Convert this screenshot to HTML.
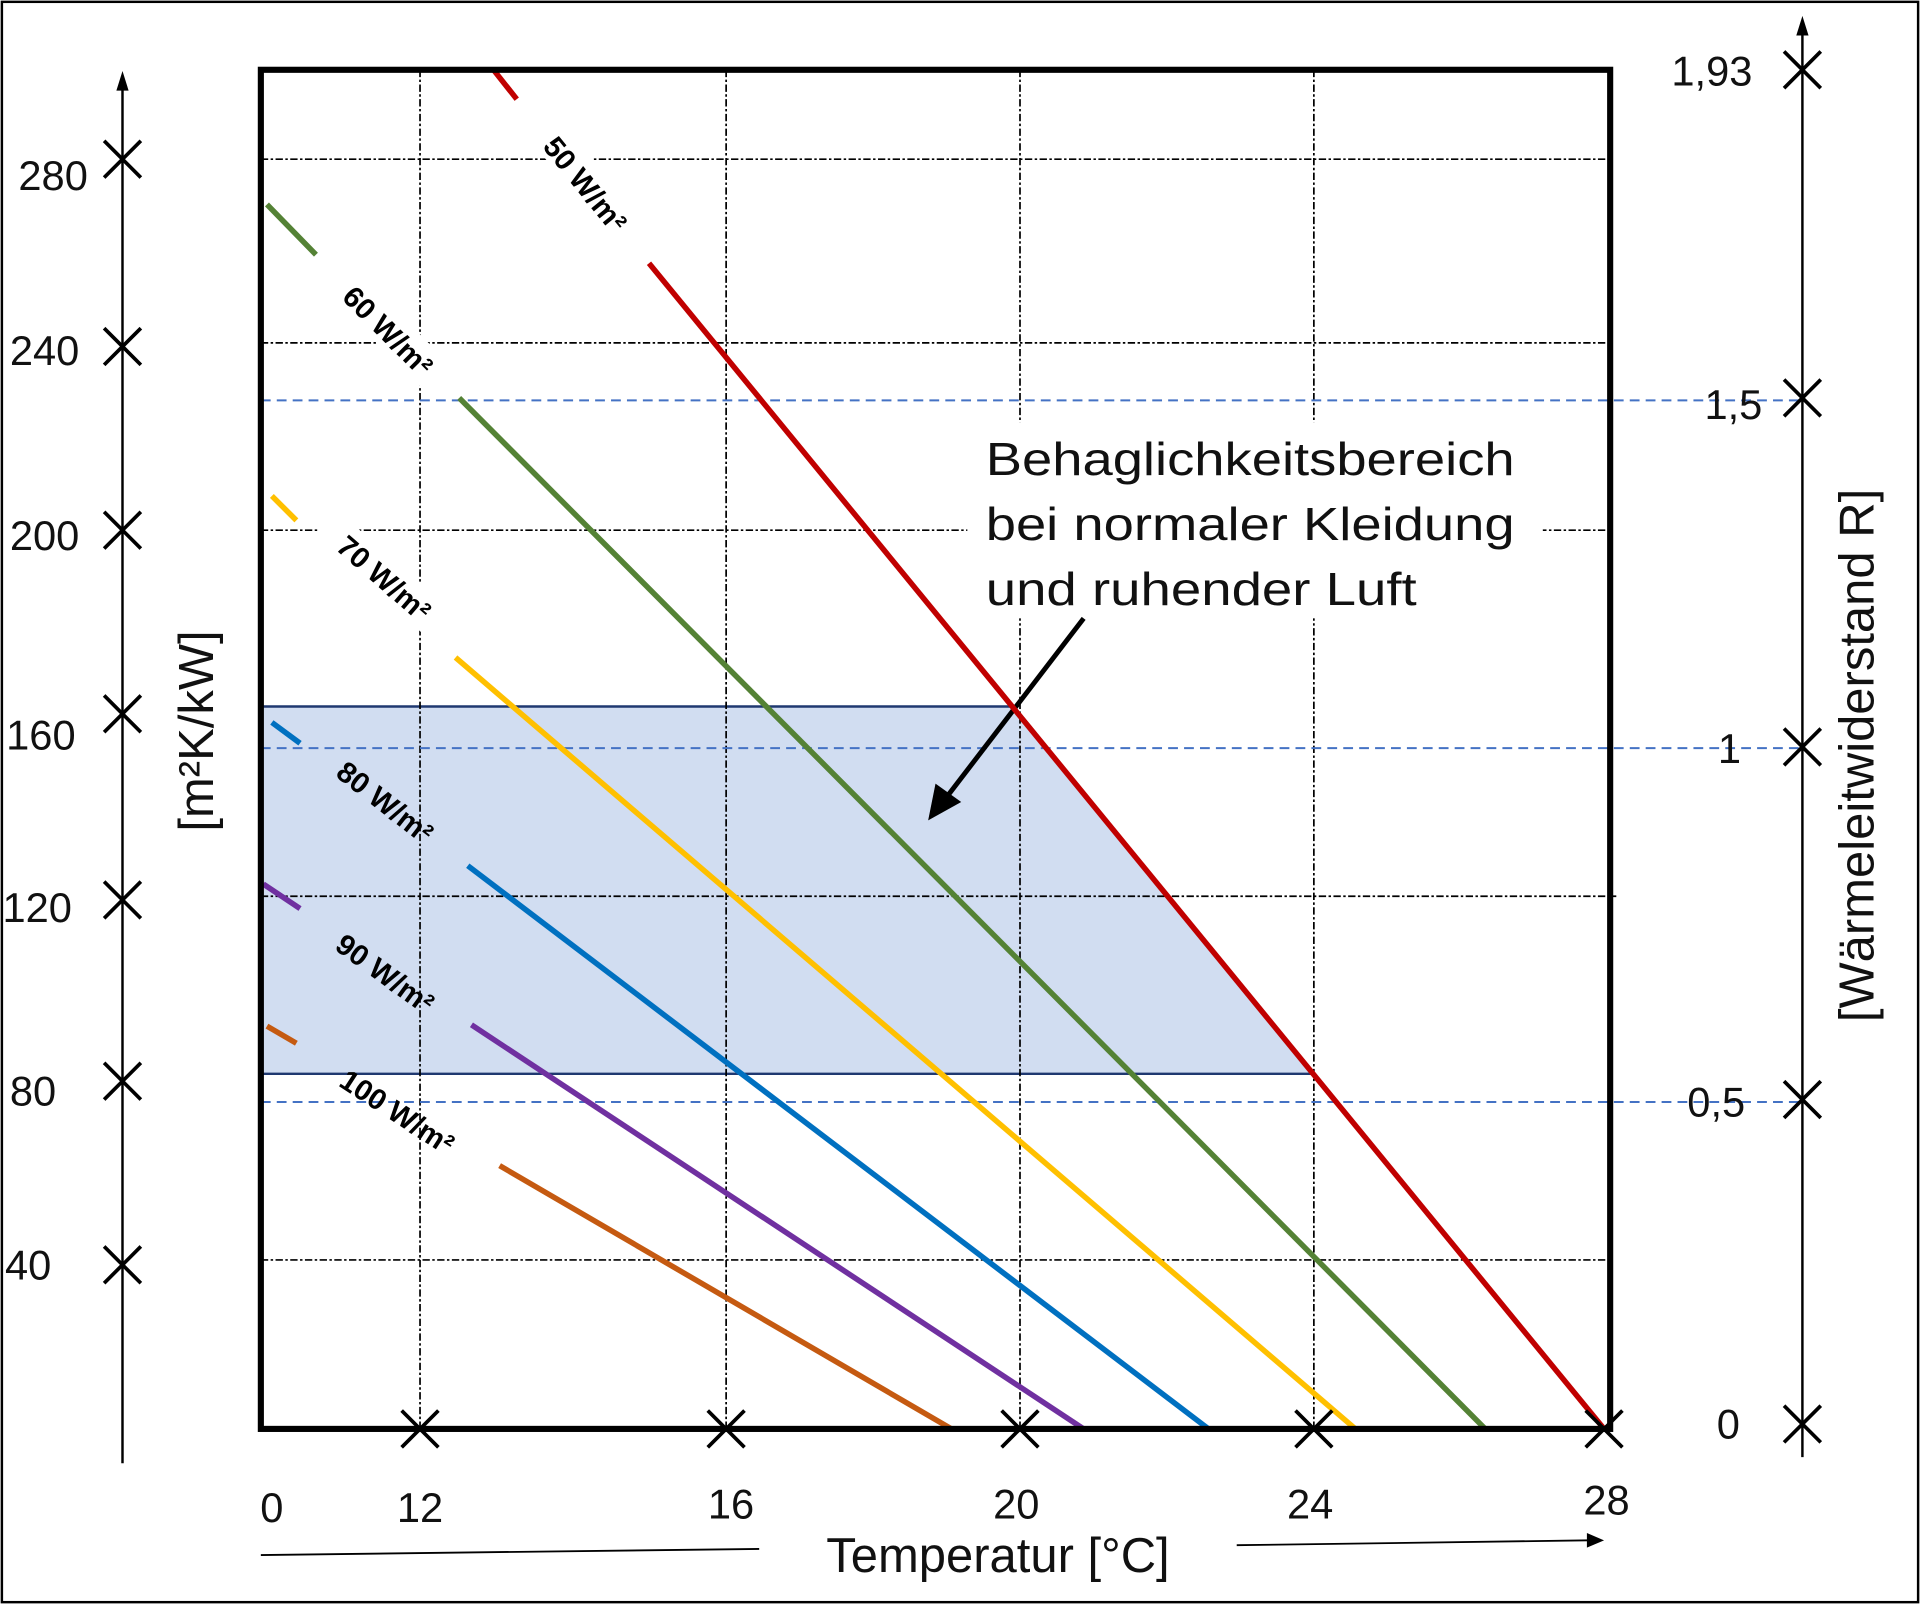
<!DOCTYPE html>
<html><head><meta charset="utf-8"><style>html,body{margin:0;padding:0;background:#fff}svg{display:block}</style></head>
<body>
<svg width="1920" height="1604" viewBox="0 0 1568 1310" xmlns="http://www.w3.org/2000/svg" font-family="Liberation Sans, Arial, sans-serif">
<rect x="1.5" y="1.5" width="1565" height="1307" fill="#fff" stroke="#000" stroke-width="2"/>
<polygon points="213,577 828,577 1073,877 213,877" fill="#d1ddf1" stroke="#1f3870" stroke-width="2"/>
<g stroke="#000" stroke-width="1.4" stroke-dasharray="6,2,2,2">
<line x1="343" y1="57" x2="343" y2="1167"/><line x1="593" y1="57" x2="593" y2="1167"/>
<line x1="833" y1="57" x2="833" y2="1167"/><line x1="1073" y1="57" x2="1073" y2="1167"/>
<line x1="213" y1="130" x2="1315" y2="130"/><line x1="213" y1="280" x2="1315" y2="280"/>
<line x1="213" y1="433" x2="1315" y2="433"/><line x1="213" y1="732" x2="1320" y2="732"/>
<line x1="213" y1="1029" x2="1315" y2="1029"/>
</g>
<g stroke="#4472c4" stroke-width="1.6" stroke-dasharray="8,5">
<line x1="213" y1="327" x2="1472" y2="327"/><line x1="213" y1="611" x2="1472" y2="611"/><line x1="213" y1="900" x2="1472" y2="900"/>
</g>
<g fill="#fff">
<g transform="translate(476,150) rotate(51)"><rect x="-66" y="-19" width="132" height="30"/></g>
<g transform="translate(315,272) rotate(45)"><rect x="-66" y="-19" width="132" height="30"/></g>
<g transform="translate(312,474) rotate(41)"><rect x="-66" y="-19" width="132" height="30"/></g>
</g>
<rect x="790" y="345" width="470" height="160" fill="#fff"/>
<g font-size="38" fill="#111">
<text x="805" y="388" textLength="432" lengthAdjust="spacingAndGlyphs">Behaglichkeitsbereich</text>
<text x="805" y="441" textLength="432" lengthAdjust="spacingAndGlyphs">bei normaler Kleidung</text>
<text x="805" y="494" textLength="352" lengthAdjust="spacingAndGlyphs">und ruhender Luft</text>
</g>
<line x1="885" y1="505" x2="770" y2="655" stroke="#000" stroke-width="4"/>
<polygon points="758,670 764,640 785,655" fill="#000"/>
<g stroke-width="4.5" fill="none">
<line x1="403" y1="57" x2="422" y2="81" stroke="#c00000"/><line x1="530" y1="215" x2="1310" y2="1167" stroke="#c00000"/>
<line x1="218" y1="167" x2="258" y2="208" stroke="#548235"/><line x1="375" y1="325" x2="1213" y2="1167" stroke="#548235"/>
<line x1="222" y1="405" x2="242" y2="425" stroke="#ffc000"/><line x1="372" y1="537" x2="1107" y2="1167" stroke="#ffc000"/>
<line x1="222" y1="590" x2="245" y2="607" stroke="#0070c0"/><line x1="382" y1="707" x2="987" y2="1167" stroke="#0070c0"/>
<line x1="215" y1="722" x2="245" y2="742" stroke="#7030a0"/><line x1="385" y1="837" x2="885" y2="1167" stroke="#7030a0"/>
<line x1="218" y1="838" x2="242" y2="852" stroke="#c55a11"/><line x1="408" y1="952" x2="777" y2="1167" stroke="#c55a11"/>
</g>
<g font-size="24" font-weight="bold" fill="#000" text-anchor="middle">
<text transform="translate(476,152) rotate(51)" y="6">50 W/m²</text>
<text transform="translate(315,272) rotate(45)" y="6">60 W/m²</text>
<text transform="translate(312,474) rotate(41)" y="6">70 W/m²</text>
<text transform="translate(313,657) rotate(38)" y="6">80 W/m²</text>
<text transform="translate(313,797) rotate(36)" y="6">90 W/m²</text>
<text transform="translate(323,910) rotate(33)" y="6">100 W/m²</text>
</g>
<rect x="213" y="57" width="1102" height="1110" fill="none" stroke="#000" stroke-width="5"/>
<line x1="100" y1="1195" x2="100" y2="70" stroke="#000" stroke-width="2"/>
<polygon points="100,58 95,74 105,74" fill="#000"/>
<g stroke="#000" stroke-width="3">
<path d="M85,115 l30,30 M115,115 l-30,30"/><path d="M85,268 l30,30 M115,268 l-30,30"/>
<path d="M85,418 l30,30 M115,418 l-30,30"/><path d="M85,568 l30,30 M115,568 l-30,30"/>
<path d="M85,720 l30,30 M115,720 l-30,30"/><path d="M85,868 l30,30 M115,868 l-30,30"/>
<path d="M85,1018 l30,30 M115,1018 l-30,30"/>
</g>
<g font-size="34" fill="#111">
<text x="15" y="155">280</text><text x="8" y="298">240</text><text x="8" y="449">200</text>
<text x="5" y="612">160</text><text x="2" y="753">120</text><text x="8" y="903">80</text><text x="4" y="1045">40</text>
</g>
<text transform="translate(174,597) rotate(-90)" font-size="40" text-anchor="middle" fill="#111">[m²K/kW]</text>
<line x1="1472" y1="1190" x2="1472" y2="25" stroke="#000" stroke-width="2"/>
<polygon points="1472,13 1467,29 1477,29" fill="#000"/>
<g stroke="#000" stroke-width="3">
<path d="M1457,42 l30,30 M1487,42 l-30,30"/><path d="M1457,310 l30,30 M1487,310 l-30,30"/>
<path d="M1457,595 l30,30 M1487,595 l-30,30"/><path d="M1457,883 l30,30 M1487,883 l-30,30"/>
<path d="M1457,1148 l30,30 M1487,1148 l-30,30"/>
</g>
<g font-size="34" fill="#111">
<text x="1365" y="70">1,93</text><text x="1392" y="342">1,5</text><text x="1403" y="623">1</text>
<text x="1378" y="912">0,5</text><text x="1402" y="1175">0</text>
</g>
<text transform="translate(1530,617) rotate(-90)" font-size="40" text-anchor="middle" fill="#111">[Wärmeleitwiderstand R]</text>
<g stroke="#000" stroke-width="3">
<path d="M328,1152 l30,30 M358,1152 l-30,30"/><path d="M578,1152 l30,30 M608,1152 l-30,30"/>
<path d="M818,1152 l30,30 M848,1152 l-30,30"/><path d="M1058,1152 l30,30 M1088,1152 l-30,30"/>
<path d="M1295,1152 l30,30 M1325,1152 l-30,30"/>
</g>
<g font-size="34" fill="#111" text-anchor="middle">
<text x="222" y="1243">0</text><text x="343" y="1243">12</text><text x="597" y="1240">16</text>
<text x="830" y="1240">20</text><text x="1070" y="1240">24</text><text x="1312" y="1237">28</text>
</g>
<text x="815" y="1284" font-size="40" text-anchor="middle" fill="#111">Temperatur [°C]</text>
<line x1="213" y1="1270" x2="620" y2="1265" stroke="#000" stroke-width="1.5"/>
<line x1="1010" y1="1262" x2="1298" y2="1258" stroke="#000" stroke-width="1.5"/>
<polygon points="1310,1258 1296,1252 1296,1264" fill="#000"/>
</svg>
</body></html>
